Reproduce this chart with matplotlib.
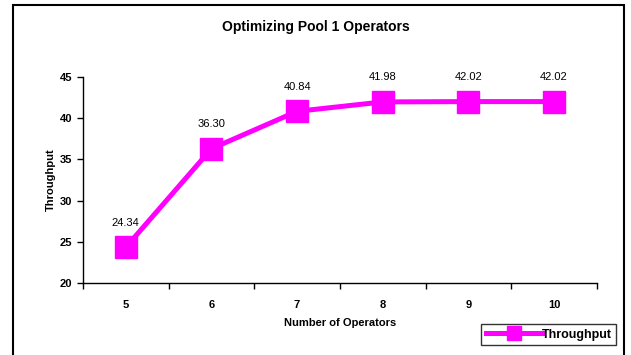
import matplotlib.pyplot as plt
from matplotlib.patches import Rectangle

plt.rcParams['font.family'] = ['Liberation Sans', 'DejaVu Sans']

operators = ['5', '6', '7', '8', '9', '10']
throughput = [24.34, 36.30, 40.84, 41.98, 42.02, 42.02]
series_name = 'Throughput'

fig = plt.figure(figsize=(6.31, 3.55), dpi=100)
ax = fig.add_axes([0.1315, 0.2028, 0.8145, 0.5802])

x = list(range(len(operators)))
ax.plot(x, throughput, color='#FF00FF', lw=3.6, marker='s', ms=16,
        mec='#FF00FF', mfc='#FF00FF', label=series_name, solid_joinstyle='miter')

for xi, v in zip(x, throughput):
    ax.annotate(f'{v:.2f}', (xi, v), xytext=(0, 14), textcoords='offset points',
                ha='center', va='bottom', fontsize=8)

ax.set_xlim(-0.5, len(operators) - 0.5)
ax.set_ylim(20, 45)
ax.set_yticks(range(20, 46, 5))
ax.set_xticks([i - 0.5 for i in range(len(operators) + 1)])
ax.set_xticklabels([])
ax.set_xticks(x, minor=True)
ax.set_xticklabels(operators, minor=True)
ax.tick_params(axis='x', which='minor', length=0, pad=12)
ax.tick_params(axis='x', which='major', length=4, direction='out', width=1)
ax.tick_params(axis='y', length=4, direction='out', width=1)
for lab in ax.get_xticklabels(minor=True) + ax.get_yticklabels():
    lab.set_fontsize(8)
    lab.set_fontweight('bold')

for side in ['top', 'right']:
    ax.spines[side].set_visible(False)
for side in ['left', 'bottom']:
    ax.spines[side].set_linewidth(1)

ax.set_xlabel('Number of Operators', fontsize=8, fontweight='bold', labelpad=6)
ax.set_ylabel('Throughput', fontsize=8, fontweight='bold', labelpad=3)

fig.text(0.5, 0.924, 'Optimizing Pool 1 Operators', ha='center', va='center',
         fontsize=10, fontweight='bold')

leg = fig.legend(loc='lower right', bbox_to_anchor=(0.977, 0.028), borderaxespad=0,
                 frameon=True, fancybox=False, edgecolor='black', borderpad=0.35,
                 handlelength=4.5, handletextpad=0.0, markerscale=0.6,
                 prop={'weight': 'bold', 'size': 9})
leg.get_frame().set_linewidth(1)

# outer chart frame
fig.patches.append(Rectangle((13 / 631, -0.05), 611 / 631, 1.05 - 5 / 355,
                             transform=fig.transFigure, fill=False,
                             edgecolor='black', lw=1.5))

fig.savefig('out.png', dpi=100)
